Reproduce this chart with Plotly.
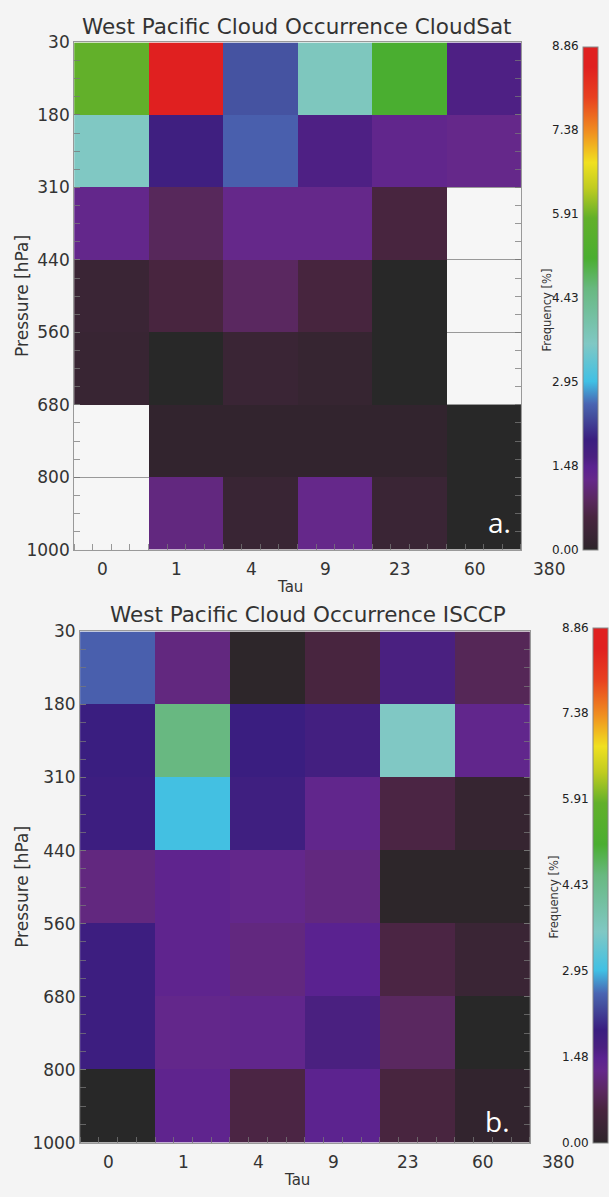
import numpy as np
import plotly.graph_objects as go

tau_labels = ["0", "1", "4", "9", "23", "60", "380"]
pres_labels = ["30", "180", "310", "440", "560", "680", "800", "1000"]

# rows: top (30-180 hPa) to bottom (800-1000 hPa); columns: tau bins
cloudsat = [
    [5.85, 8.50, 2.40, 3.72, 5.14, 1.60],
    [3.65, 1.86, 2.52, 1.60, 1.33, 1.24],
    [1.28, 0.84, 1.24, 1.24, 0.58, None],
    [0.27, 0.58, 0.89, 0.56, 0.00, None],
    [0.22, 0.00, 0.27, 0.18, 0.00, None],
    [None, 0.09, 0.09, 0.09, 0.10, 0.00],
    [None, 1.15, 0.25, 1.24, 0.27, 0.00],
]
isccp = [
    [2.52, 1.15, 0.03, 0.58, 1.64, 0.80],
    [1.95, 4.60, 1.95, 1.77, 3.63, 1.33],
    [1.90, 3.00, 1.86, 1.33, 0.62, 0.18],
    [1.15, 1.37, 1.28, 1.15, 0.03, 0.03],
    [1.90, 1.37, 1.15, 1.46, 0.62, 0.27],
    [1.90, 1.28, 1.33, 1.64, 0.89, 0.00],
    [0.00, 1.37, 0.62, 1.42, 0.58, 0.09],
]
zmax = 8.86
cbar_vals = np.linspace(0, zmax, 7)
cbar_text = ["%.2f" % v for v in cbar_vals]

colorscale = [
    [0.0, "#282828"], [0.006, "#30242c"], [0.03, "#3a2535"], [0.065, "#48253f"],
    [0.10, "#5a2860"], [0.14, "#65288a"], [0.165, "#5a2290"], [0.185, "#4a2080"],
    [0.22, "#3a1e80"], [0.27, "#4552a0"], [0.29, "#4a64b2"], [0.335, "#40c0e4"],
    [0.41, "#80c8c4"], [0.52, "#68b880"], [0.58, "#4aae30"], [0.66, "#62b02a"],
    [0.72, "#c0cc20"], [0.77, "#f0e020"], [0.83, "#f09020"], [0.90, "#e84020"],
    [0.96, "#e02020"], [1.0, "#e02020"],
]

FONT = "DejaVu Sans"
TXT = "#333333"
W, H = 609, 1197

def px(x):
    return x / W

def py(y):
    return (H - y) / H

# panel frames in pixels: left, right, top, bottom
panels = [
    dict(z=cloudsat, l=75, r=527, t=33, b=549, cb_x=590, cb_t=37, cb_b=549,
         title="West Pacific Cloud Occurrence CloudSat", title_x=300, title_y=17,
         tick_y=568, tau_y=587, freq_x=556, tag="a.", tag_x=505, tag_y=521),
    dict(z=isccp, l=81, r=536, t=632, b=1152, cb_x=600, cb_t=628, cb_b=1152,
         title="West Pacific Cloud Occurrence ISCCP", title_x=312, title_y=615,
         tick_y=1172, tau_y=1190, freq_x=563, tag="b.", tag_x=503, tag_y=1130),
]

fig = go.Figure()
xedges = np.arange(len(tau_labels))
yedges = np.arange(len(pres_labels))
minor_x = np.arange(0, len(tau_labels) - 1 + 0.001, 0.25)
minor_y = np.arange(0, len(pres_labels) - 1 + 0.001, 0.25)
tickc = "rgba(120,120,120,0.75)"

layout = dict(width=W, height=H, margin=dict(l=0, r=0, t=0, b=0),
              paper_bgcolor="#f4f4f4", plot_bgcolor="#f6f6f6", showlegend=False)

def ann(text, x, y, size, color=TXT, angle=0, xanchor="center", family=FONT):
    fig.add_annotation(text=text, x=px(x), y=py(y), xref="paper", yref="paper",
                       showarrow=False, xanchor=xanchor, yanchor="middle", textangle=angle,
                       font=dict(family=family, size=size, color=color))

for i, p in enumerate(panels):
    sfx = "" if i == 0 else str(i + 1)
    fig.add_trace(go.Heatmap(
        z=p["z"], x=xedges, y=yedges, xaxis="x" + sfx, yaxis="y" + sfx,
        zmin=0, zmax=zmax, colorscale=colorscale, hoverongaps=False,
        colorbar=dict(
            x=px(p["cb_x"]), xanchor="left", xpad=0,
            y=py((p["cb_t"] + p["cb_b"]) / 2), yanchor="middle", ypad=0,
            len=(p["cb_b"] - p["cb_t"]) / H, lenmode="fraction",
            thickness=15, thicknessmode="pixels",
            tickvals=cbar_vals, showticklabels=False, ticks="",
            outlinecolor="#888888", outlinewidth=1,
        ),
    ))
    layout["xaxis" + sfx] = dict(
        domain=[px(p["l"]), px(p["r"])], anchor="y" + sfx,
        range=[0, len(tau_labels) - 1], showticklabels=False,
        tickmode="array", tickvals=xedges, ticks="", showgrid=False, zeroline=False,
        showline=True, linecolor="#999999", linewidth=1, mirror=True,
        minor=dict(tickmode="array", tickvals=minor_x, ticks="inside",
                   ticklen=6, tickcolor=tickc, showgrid=False),
    )
    layout["yaxis" + sfx] = dict(
        domain=[py(p["b"]), py(p["t"])], anchor="x" + sfx,
        range=[len(pres_labels) - 1, 0],
        tickmode="array", tickvals=yedges, ticktext=pres_labels,
        ticks="inside", ticklen=6, tickcolor=tickc,
        showgrid=True, gridcolor="#999999", gridwidth=1, zeroline=False,
        showline=True, linecolor="#999999", linewidth=1, mirror="ticks",
        minor=dict(tickmode="array", tickvals=minor_y, ticks="inside",
                   ticklen=6, tickcolor=tickc, showgrid=False),
        tickfont=dict(family=FONT, size=17, color=TXT),
    )
    # tau tick labels (drawn slightly right of the bin edges, as in the original)
    ncol = len(tau_labels) - 1
    for k, lab in enumerate(tau_labels):
        xp = p["l"] + (k + 0.38) / ncol * (p["r"] - p["l"])
        ann(lab, xp, p["tick_y"], 17)
    # colour bar labels, on the left of the bar
    for v, t in zip(cbar_vals, cbar_text):
        yv = p["cb_b"] - v / zmax * (p["cb_b"] - p["cb_t"])
        ann(t, p["cb_x"] - 2, yv, 12, color="#222222", xanchor="right")
    ann("Tau", (p["l"] + p["r"]) / 2 - 8, p["tau_y"], 15)
    ann(p["title"], p["title_x"], p["title_y"], 21.5)
    ann("Pressure [hPa]", 22, (p["t"] + p["b"]) / 2, 17, angle=-90)
    ann("Frequency [%]", p["freq_x"] - 3, (p["cb_t"] + p["cb_b"]) / 2 + 12, 11.5, angle=-90)
    ann(p["tag"], p["tag_x"], p["tag_y"], 28, color="white", family="Open Sans")

fig.update_layout(**layout)
fig.write_html("out.html")
